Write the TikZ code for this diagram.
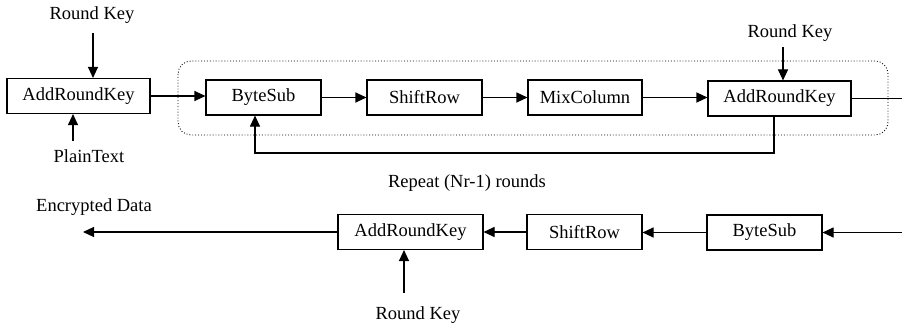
\documentclass[tikz,border=0pt]{standalone}
\usepackage{fontspec}
\setmainfont{Liberation Serif}
\usetikzlibrary{arrows.meta}
\begin{document}
\begin{tikzpicture}[x=1pt,y=-1pt,
  every node/.style={font=\fontsize{18.5}{21}\selectfont},
  box/.style={draw, line width=1.1pt, minimum height=35pt, inner sep=0pt},
  lbl/.style={inner sep=0pt},
  arr/.style={line width=1.1pt, -{Triangle[length=11pt,width=10pt]}},
  ln/.style={line width=1.1pt}]
\useasboundingbox (0,0) rectangle (902,329);
% dotted round frame
\draw[dotted, line width=0.9pt, rounded corners=13pt] (178,61) rectangle (888,135);
% top row
\node[box, minimum width=143pt] (ark1) at (78.5,96) {AddRoundKey};
\node[box, minimum width=115pt] (bs1) at (263.5,97.5) {ByteSub};
\node[box, minimum width=115pt] (sr1) at (424.5,97.5) {ShiftRow};
\node[box, minimum width=114pt] (mc1) at (585,97.5) {MixColumn};
\node[box, minimum width=143pt] (ark2) at (779.5,98.5) {AddRoundKey};
% bottom row
\node[box, minimum width=145pt] (ark3) at (410.5,232) {AddRoundKey};
\node[box, minimum width=115pt] (sr3) at (584.5,232) {ShiftRow};
\node[box, minimum width=115pt] (bs3) at (764.5,232.5) {ByteSub};
% labels
\node[lbl] (rk1) at (92,15) {Round Key};
\node[lbl] (pt) at (89,156) {PlainText};
\node[lbl] (rk2) at (790,33) {Round Key};
\node[lbl] (rep) at (467,183) {Repeat (Nr-1) rounds};
\node[lbl] (enc) at (94,207) {Encrypted Data};
\node[lbl] (rk3) at (418,315) {Round Key};
% coordinates
\coordinate (rk1s) at (93,33);
\coordinate (pts) at (73,141);
\coordinate (rk2s) at (783,47);
\coordinate (outR) at (902,98.5);
\coordinate (fbR) at (774,153);
\coordinate (fbL) at (255,153);
\coordinate (inR) at (902,232.5);
\coordinate (encE) at (83,232);
\coordinate (rk3s) at (404,293);
% top arrows
\draw[arr] (rk1s) -- (rk1s |- ark1.north);
\draw[arr] (pts) -- (pts |- ark1.south);
\draw[arr] (ark1.east) -- (bs1.west |- ark1.east);
\draw[arr] (bs1) -- (sr1);
\draw[arr] (sr1) -- (mc1);
\draw[arr] (mc1.east) -- (ark2.west |- mc1.east);
\draw[arr] (rk2s) -- (rk2s |- ark2.north);
\draw[ln] (ark2.east) -- (outR);
\draw[arr] (fbR |- ark2.south) -- (fbR) -- (fbL) -- (fbL |- bs1.south);
% bottom arrows
\draw[arr] (inR) -- (bs3.east);
\draw[arr] (bs3.west) -- (sr3.east |- bs3.west);
\draw[arr] (sr3) -- (ark3);
\draw[arr] (ark3.west) -- (encE);
\draw[arr] (rk3s) -- (rk3s |- ark3.south);
\end{tikzpicture}
\end{document}
